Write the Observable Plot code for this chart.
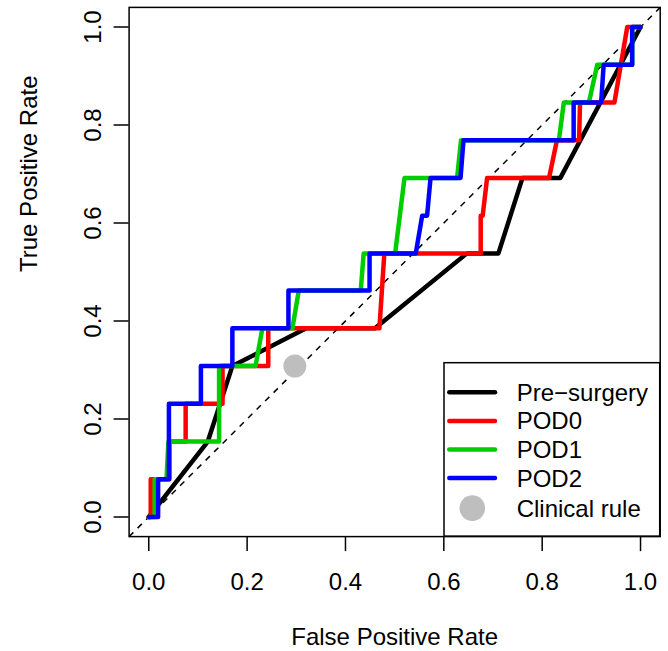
<!DOCTYPE html>
<html><head><meta charset="utf-8">
<script src="https://cdn.jsdelivr.net/npm/d3@7"></script>
<script src="https://cdn.jsdelivr.net/npm/@observablehq/plot@0.6"></script>
<style>
body{margin:0;background:#fff;}
#chart{position:relative;width:668px;height:651px;font-family:"Liberation Sans",Arial,Helvetica,sans-serif;}
#legend{position:absolute;left:0;top:0;pointer-events:none;}
</style></head><body><div id="chart"></div>
<script>
// ---- data ----
const xTicks = [0, 0.2, 0.4, 0.6, 0.8, 1.0];
const yTicks = [0, 0.2, 0.4, 0.6, 0.8, 1.0];
const axisExtent = [-0.04, 1.04];
const diagonal = [-0.04, 1.04];

const preX = [0, 0.12, 0.17, 0.32, 0.46, 0.647, 0.711, 0.76, 0.837, 1];
const preY = [0, 0.154, 0.308, 0.385, 0.385, 0.538, 0.538, 0.692, 0.692, 1];

const pod0X = [0, 0.004, 0.004, 0.042, 0.042, 0.075, 0.075, 0.15, 0.15, 0.243, 0.243, 0.469, 0.479, 0.675, 0.675, 0.679, 0.688, 0.814, 0.83, 0.875, 0.877, 0.947, 0.973, 1];
const pod0Y = [0, 0, 0.077, 0.077, 0.154, 0.154, 0.231, 0.231, 0.308, 0.308, 0.385, 0.385, 0.538, 0.538, 0.615, 0.615, 0.692, 0.692, 0.769, 0.769, 0.846, 0.846, 1, 1];

const pod1X = [0, 0.012, 0.012, 0.036, 0.04, 0.143, 0.143, 0.217, 0.231, 0.292, 0.305, 0.431, 0.437, 0.501, 0.52, 0.627, 0.635, 0.834, 0.844, 0.895, 0.912, 0.983, 0.983, 1];
const pod1Y = [0, 0, 0.077, 0.077, 0.154, 0.154, 0.308, 0.308, 0.385, 0.385, 0.462, 0.462, 0.538, 0.538, 0.692, 0.692, 0.769, 0.769, 0.846, 0.846, 0.923, 0.923, 1, 1];

const pod2X = [0, 0.019, 0.019, 0.041, 0.041, 0.106, 0.106, 0.17, 0.17, 0.284, 0.284, 0.449, 0.449, 0.543, 0.556, 0.566, 0.573, 0.634, 0.64, 0.864, 0.864, 0.92, 0.925, 0.983, 0.983, 1];
const pod2Y = [0, 0, 0.077, 0.077, 0.231, 0.231, 0.308, 0.308, 0.385, 0.385, 0.462, 0.462, 0.538, 0.538, 0.615, 0.615, 0.692, 0.692, 0.769, 0.769, 0.846, 0.846, 0.923, 0.923, 1, 1];

const clinicalX = [0.297];
const clinicalY = [0.308];

const seriesNames = ["Pre\u2212surgery", "POD0", "POD1", "POD2"];
const seriesColors = ["#000000", "#FF0000", "#00CD00", "#0000FF"];
const clinicalName = "Clinical rule";
const clinicalColor = "#BEBEBE";
const xLabel = "False Positive Rate";
const yLabel = "True Positive Rate";

// ---- build ----
const toPts = (xs, ys) => xs.map((x, i) => ({x, y: ys[i]}));
const series = [toPts(preX, preY), toPts(pod0X, pod0Y), toPts(pod1X, pod1Y), toPts(pod2X, pod2Y)];
const fmt = d3.format(".1f");
const FONT = 24;

const chart = Plot.plot({
  width: 668, height: 651,
  marginLeft: 128.6, marginRight: 8.3, marginTop: 6.9, marginBottom: 114.9,
  x: {domain: axisExtent},
  y: {domain: axisExtent},
  style: {fontFamily: '"Liberation Sans", Arial, Helvetica, sans-serif', background: "white", color: "black"},
  marks: [
    Plot.line(diagonal, {x: d => d, y: d => d, stroke: "black", strokeWidth: 1.5, strokeDasharray: "6,6", strokeLinecap: "butt"}),
    ...series.map((pts, i) => Plot.line(pts, {x: "x", y: "y", stroke: seriesColors[i], strokeWidth: 4.5})),
    Plot.dot(toPts(clinicalX, clinicalY), {x: "x", y: "y", r: 11.5, fill: clinicalColor, stroke: null}),
    Plot.frame({stroke: "black", strokeWidth: 1.5}),
    Plot.axisX({ticks: xTicks, tickSize: 15, tickPadding: 21.4, tickFormat: fmt, fontSize: FONT, strokeWidth: 1.5, label: null}),
    Plot.axisY({ticks: yTicks, tickSize: 15, tickPadding: 13.6, tickRotate: -90, tickFormat: fmt, fontSize: FONT, strokeWidth: 1.5, label: null}),
    Plot.text([xLabel], {text: d => d, frameAnchor: "bottom", lineAnchor: "bottom", dy: 108, fontSize: FONT}),
    Plot.text([yLabel], {text: d => d, frameAnchor: "left", lineAnchor: "bottom", rotate: -90, dx: -92.6, fontSize: FONT})
  ]
});
const host = document.getElementById("chart");
host.appendChild(chart);

// ---- legend (overlay) ----
const legend = d3.select(host).append("svg").attr("id", "legend").attr("width", 668).attr("height", 651)
  .style("font-family", '"Liberation Sans", Arial, Helvetica, sans-serif');
const lx = 444, ly = 362.7, lw = 215.7, lh = 173.4, rowStart = 29.6, rowStep = 28.6;
legend.append("rect").attr("x", lx).attr("y", ly).attr("width", lw).attr("height", lh)
  .attr("fill", "white").attr("stroke", "black").attr("stroke-width", 1.5);
seriesNames.forEach((name, i) => {
  const cy = ly + rowStart + i * rowStep;
  legend.append("line").attr("x1", lx + 5.3).attr("x2", lx + 51).attr("y1", cy).attr("y2", cy)
    .attr("stroke", seriesColors[i]).attr("stroke-width", 4.5).attr("stroke-linecap", "round");
  legend.append("text").attr("x", lx + 72.7).attr("y", cy).attr("dy", "0.35em")
    .attr("font-size", FONT).attr("fill", "black").text(name);
});
{
  const cy = ly + rowStart + seriesNames.length * rowStep + 1.4;
  legend.append("circle").attr("cx", lx + 28.3).attr("cy", cy).attr("r", 12.8).attr("fill", clinicalColor);
  legend.append("text").attr("x", lx + 72.7).attr("y", cy).attr("dy", "0.35em")
    .attr("font-size", FONT).attr("fill", "black").text(clinicalName);
}
</script></body></html>
